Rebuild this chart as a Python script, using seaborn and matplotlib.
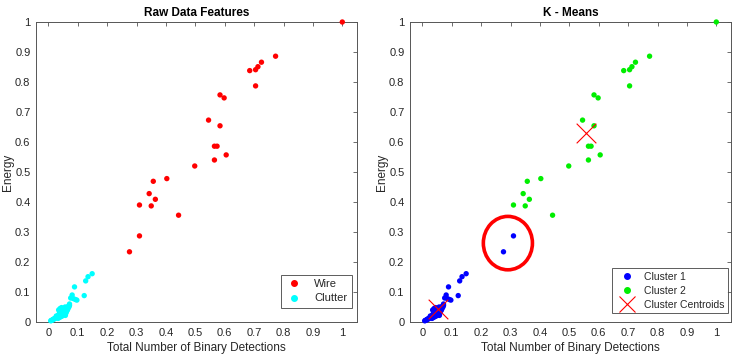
import matplotlib

matplotlib.use("Agg")

import matplotlib.pyplot as plt
import pandas as pd
import seaborn as sns
from matplotlib.lines import Line2D
from matplotlib.patches import Ellipse

# wire detections (normalised)
wire_x = [1.0, 0.773, 0.725, 0.713, 0.705, 0.685, 0.705, 0.584, 0.598, 0.545,
          0.584, 0.565, 0.574, 0.605, 0.565, 0.498, 0.403, 0.357, 0.343, 0.364,
          0.310, 0.350, 0.443, 0.310, 0.276]
wire_y = [1.0, 0.886, 0.866, 0.851, 0.841, 0.838, 0.787, 0.757, 0.747, 0.673,
          0.654, 0.586, 0.586, 0.557, 0.540, 0.520, 0.478, 0.469, 0.428, 0.409,
          0.390, 0.387, 0.356, 0.287, 0.234]

# clutter detections (normalised)
clutter_x = [0.149, 0.135, 0.127, 0.089, 0.122, 0.097, 0.081, 0.076, 0.092, 0.085,
             0.072, 0.068, 0.065, 0.062, 0.060, 0.058, 0.055, 0.053, 0.050, 0.048,
             0.046, 0.044, 0.042, 0.040, 0.038, 0.036, 0.034, 0.032, 0.030, 0.028,
             0.026, 0.024, 0.022, 0.020, 0.018, 0.016, 0.014, 0.012, 0.010, 0.008,
             0.055, 0.050, 0.045, 0.060, 0.040, 0.035, 0.052, 0.047, 0.065, 0.070,
             0.058, 0.062, 0.043, 0.038, 0.033, 0.027, 0.067, 0.072, 0.057, 0.049]
clutter_y = [0.161, 0.151, 0.137, 0.117, 0.088, 0.073, 0.090, 0.080, 0.075, 0.078,
             0.060, 0.052, 0.050, 0.048, 0.045, 0.040, 0.042, 0.038, 0.035, 0.040,
             0.032, 0.035, 0.030, 0.028, 0.030, 0.025, 0.022, 0.020, 0.018, 0.016,
             0.015, 0.013, 0.012, 0.010, 0.010, 0.008, 0.007, 0.006, 0.005, 0.004,
             0.025, 0.022, 0.048, 0.030, 0.045, 0.040, 0.030, 0.020, 0.040, 0.050,
             0.022, 0.035, 0.018, 0.015, 0.012, 0.020, 0.045, 0.055, 0.050, 0.028]

# k-means result: the two lowest wire points fall into cluster 1
moved = 2
centroid_x = [0.054, 0.557]
centroid_y = [0.044, 0.631]

TXT = "#262626"


def style_axes(ax, title):
    ax.set_xlim(-0.042, 1.05)
    ax.set_ylim(0, 1)
    ax.set_xticks([i / 10 for i in range(11)])
    ax.set_yticks([i / 10 for i in range(11)])
    ax.set_xticklabels(["0"] + [f"{i / 10:g}" for i in range(1, 10)] + ["1"])
    ax.set_yticklabels(["0"] + [f"{i / 10:g}" for i in range(1, 10)] + ["1"])
    ax.tick_params(direction="in", length=3, width=0.6, top=True, right=True,
                   colors="#555555", labelcolor=TXT, labelsize=8, pad=4)
    for s in ax.spines.values():
        s.set_color("#555555")
        s.set_linewidth(0.7)
    ax.set_xlabel("Total Number of Binary Detections", color=TXT, fontsize=8.5, labelpad=3)
    ax.set_ylabel("Energy", color=TXT, fontsize=8.5)
    ax.yaxis.set_label_coords(-0.068, 0.5)
    ax.set_title(title, fontweight="bold", color="black", fontsize=8.5, pad=4)


def main():
    sns.set_theme(style="white")
    plt.rcParams["font.family"] = ["Liberation Sans", "DejaVu Sans"]

    raw = pd.DataFrame({
        "x": wire_x + clutter_x,
        "y": wire_y + clutter_y,
        "label": ["Wire"] * len(wire_x) + ["Clutter"] * len(clutter_x),
    })
    cl = ["Cluster 2"] * (len(wire_x) - moved) + ["Cluster 1"] * moved + ["Cluster 1"] * len(clutter_x)
    km = raw.assign(label=cl)

    fig = plt.figure(figsize=(7.44, 3.64), dpi=100)
    ax1 = fig.add_axes([36 / 744, 42 / 364, 321 / 744, 300 / 364])
    ax2 = fig.add_axes([410 / 744, 42 / 364, 321 / 744, 300 / 364])

    sns.scatterplot(data=raw, x="x", y="y", hue="label", hue_order=["Wire", "Clutter"],
                    palette={"Wire": "#ff0000", "Clutter": "#00ffff"},
                    s=15, edgecolor="none", legend=False, ax=ax1, zorder=3, clip_on=False)
    style_axes(ax1, "Raw Data Features")
    h1 = [Line2D([], [], ls="", marker="o", ms=4, color=c) for c in ["#ff0000", "#00ffff"]]
    leg = ax1.legend(h1, ["Wire", "Clutter"], loc="lower right", fontsize=8,
                     fancybox=False, edgecolor="#333333", handletextpad=1.0,
                     handlelength=1.6, borderpad=0.4, labelspacing=0.4,
                     borderaxespad=0, bbox_to_anchor=(0.984, 0.047))
    leg.get_frame().set_linewidth(0.7)

    sns.scatterplot(data=km, x="x", y="y", hue="label", hue_order=["Cluster 1", "Cluster 2"],
                    palette={"Cluster 1": "#0000ff", "Cluster 2": "#00ee00"},
                    s=15, edgecolor="none", legend=False, ax=ax2, zorder=3, clip_on=False)
    sns.scatterplot(x=centroid_x, y=centroid_y, marker="x", s=200, color="#ff0000",
                    linewidth=0.8, legend=False, ax=ax2, zorder=4)
    ax2.add_patch(Ellipse((0.291, 0.263), 0.167, 0.178, fill=False,
                          edgecolor="#ff0000", linewidth=2.6, zorder=5))
    style_axes(ax2, "K - Means")
    h2 = [Line2D([], [], ls="", marker="o", ms=4, color="#0000ff"),
          Line2D([], [], ls="", marker="o", ms=4, color="#00ee00"),
          Line2D([], [], ls="", marker="x", ms=12, mew=0.8, color="#ff0000")]
    leg = ax2.legend(h2, ["Cluster 1", "Cluster 2", "Cluster Centroids"], loc="lower right",
                     fontsize=7.5, fancybox=False, edgecolor="#333333", handletextpad=0.6,
                     handlelength=2.2, borderpad=0.3, labelspacing=0.4,
                     borderaxespad=0, bbox_to_anchor=(0.991, 0.03))
    leg.get_frame().set_linewidth(0.7)

    fig.savefig("out.png", dpi=100, facecolor="white")
    plt.close(fig)


if __name__ == "__main__":
    main()
